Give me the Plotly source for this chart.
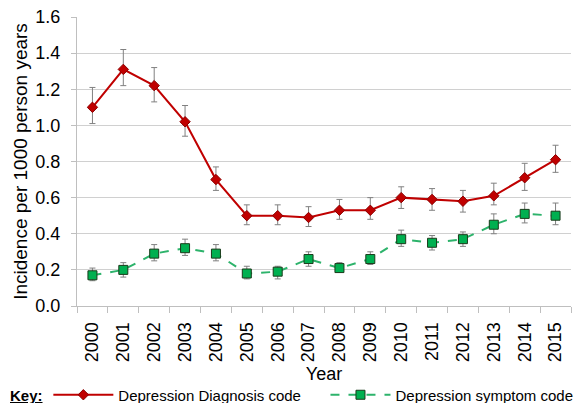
import plotly.graph_objects as go

years = [str(y) for y in range(2000, 2016)]
diag = [1.10, 1.31, 1.22, 1.02, 0.70, 0.50, 0.50, 0.49, 0.53, 0.53, 0.60, 0.59, 0.58, 0.61, 0.71, 0.81]
diag_lo = [1.01, 1.22, 1.13, 0.94, 0.64, 0.45, 0.45, 0.44, 0.48, 0.48, 0.54, 0.53, 0.52, 0.56, 0.64, 0.74]
diag_hi = [1.21, 1.42, 1.32, 1.11, 0.77, 0.56, 0.56, 0.55, 0.59, 0.60, 0.66, 0.65, 0.64, 0.68, 0.79, 0.89]
symp = [0.17, 0.20, 0.29, 0.32, 0.29, 0.18, 0.19, 0.26, 0.21, 0.26, 0.37, 0.35, 0.37, 0.45, 0.51, 0.50]
symp_lo = [0.14, 0.16, 0.25, 0.28, 0.25, 0.15, 0.15, 0.22, 0.19, 0.23, 0.33, 0.31, 0.33, 0.40, 0.46, 0.45]
symp_hi = [0.21, 0.24, 0.34, 0.37, 0.34, 0.22, 0.22, 0.30, 0.24, 0.30, 0.42, 0.39, 0.41, 0.51, 0.57, 0.57]

def err(v, lo, hi):
    return dict(type="data", symmetric=False,
                array=[h - x for x, h in zip(v, hi)],
                arrayminus=[x - l for x, l in zip(v, lo)],
                color="#808080", thickness=1, width=3)

fig = go.Figure()
fig.add_trace(go.Scatter(
    x=years, y=diag, mode="lines+markers", name="Depression Diagnosis code",
    line=dict(color="#C00000", width=2),
    marker=dict(symbol="diamond", size=8, color="#C00000", line=dict(color="#8B0000", width=1)),
    error_y=err(diag, diag_lo, diag_hi), legend="legend"))
fig.add_trace(go.Scatter(
    x=years, y=symp, mode="lines+markers", name="Depression symptom code",
    line=dict(color="#2DB36B", width=2, dash="dash"),
    marker=dict(symbol="square", size=9, color="#00B050", line=dict(color="#1a3a1a", width=1)),
    error_y=err(symp, symp_lo, symp_hi), legend="legend2"))

fig.add_annotation(text="<b><u>Key:</u></b>", xref="paper", yref="paper",
                   x=-0.14, y=-0.308, xanchor="left", yanchor="middle",
                   showarrow=False, font=dict(size=15, color="#000000"))

leg_common = dict(orientation="h", y=-0.308, xanchor="left", yanchor="middle",
                  font=dict(size=15, color="#000000"), itemwidth=60,
                  bgcolor="rgba(0,0,0,0)")

fig.update_layout(
    width=580, height=403,
    margin=dict(l=77, r=9, t=17, b=97, autoexpand=False),
    paper_bgcolor="white", plot_bgcolor="white",
    font=dict(family="Liberation Sans, Arial, sans-serif", color="#000000"),
    showlegend=True,
    legend=dict(x=-0.058, **leg_common),
    legend2=dict(x=0.503, **leg_common),
    xaxis=dict(type="category", range=[-0.5, 15.5], tickangle=-90, automargin=False,
               tickfont=dict(size=18), showline=True, linecolor="#BFBFBF", linewidth=1,
               ticks="outside", tickson="boundaries", ticklen=6, tickcolor="#BFBFBF",
               ticklabelstandoff=8, showgrid=False,
               title=dict(text="Year", font=dict(size=18), standoff=6)),
    yaxis=dict(range=[0, 1.6], dtick=0.2, tickformat=".1f", tickfont=dict(size=18),
               automargin=False,
               showline=True, linecolor="#BFBFBF", linewidth=1,
               gridcolor="#D0D0D0", gridwidth=1, zeroline=False,
               ticks="outside", ticklen=5, tickcolor="#BFBFBF", ticklabelstandoff=7,
               title=dict(text="Incidence per 1000 person years", font=dict(size=19), standoff=2)),
)

fig.write_html("out.html", config={"displayModeBar": False},
               post_script="document.body.style.margin='0';document.body.style.overflow='hidden';")
